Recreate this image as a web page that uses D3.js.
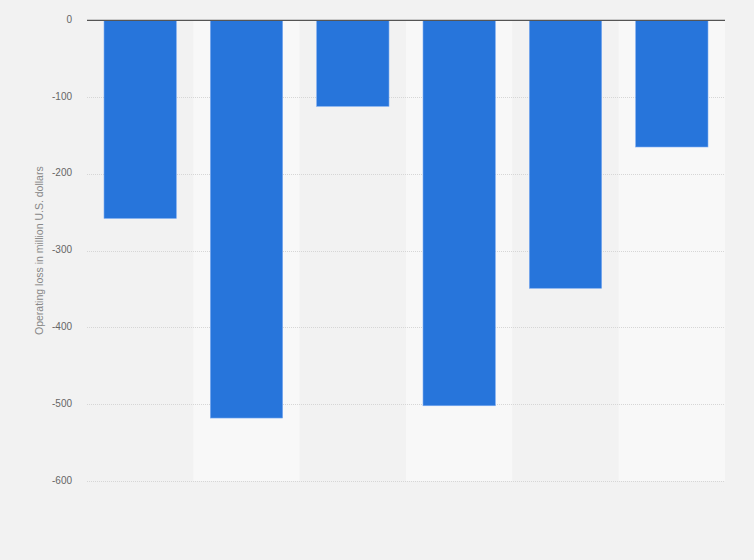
<!DOCTYPE html>
<html>
<head>
<meta charset="utf-8">
<script src="https://cdn.jsdelivr.net/npm/d3@7"></script>
<style>
  html, body { margin: 0; padding: 0; background: #f2f2f2; }
  svg { display: block; font-family: "Liberation Sans", Arial, sans-serif; }
  .tick-label { font-size: 10px; fill: #666; }
  .axis-title { font-size: 10.5px; fill: #888; }
</style>
</head>
<body>
<div id="chart"></div>
<script>
// Balken nach unten: Betriebsverlust je Kategorie (keine x-Beschriftung im Original)
const categories = ["1", "2", "3", "4", "5", "6"];
const values = [-258, -518, -112, -502, -349, -165];
const yTicks = [0, -100, -200, -300, -400, -500, -600];

const W = 754, H = 560;
const M = { top: 20, right: 29, bottom: 79, left: 87 };

const svg = d3.select("#chart").append("svg")
  .attr("width", W)
  .attr("height", H);

const x = d3.scaleBand()
  .domain(categories)
  .range([M.left, W - M.right])
  .paddingInner(0.32)
  .paddingOuter(0.16);

// Hintergrund-Spalten ohne Padding
const xBand = d3.scaleBand()
  .domain(categories)
  .range([M.left, W - M.right])
  .padding(0);

const y = d3.scaleLinear()
  .domain([0, -600])
  .range([M.top + 0.3, H - M.bottom]);

// abwechselnde Spalten
svg.append("g").selectAll("rect")
  .data(categories)
  .join("rect")
  .attr("x", d => xBand(d))
  .attr("y", y(0))
  .attr("width", xBand.bandwidth())
  .attr("height", y(-600) - y(0))
  .attr("fill", (d, i) => i % 2 ? "#f8f8f8" : "#f2f2f2");

// Gitterlinien (gepunktet)
svg.append("g").selectAll("line")
  .data(yTicks.filter(t => t !== 0))
  .join("line")
  .attr("x1", M.left)
  .attr("x2", W - M.right)
  .attr("y1", d => Math.round(y(d)) + 0.5)
  .attr("y2", d => Math.round(y(d)) + 0.5)
  .attr("stroke", "#d6d6d6")
  .attr("stroke-width", 1)
  .attr("stroke-dasharray", "1,1");

// Y-Achse mit d3.axisLeft, Linie und Ticks ausgeblendet; normales Minus wie im Original
const yAxis = svg.append("g")
  .attr("transform", `translate(${M.left},0)`)
  .call(d3.axisLeft(y).tickValues(yTicks).tickSize(0).tickPadding(15).tickFormat(d => String(d)));
yAxis.select(".domain").remove();
yAxis.selectAll("text")
  .attr("class", "tick-label")
  .attr("font-family", null)
  .attr("dy", "0.2em");

// Balken
svg.append("g").selectAll("rect")
  .data(values)
  .join("rect")
  .attr("x", (d, i) => x(categories[i]))
  .attr("y", y(0))
  .attr("width", x.bandwidth())
  .attr("height", d => y(d) - y(0))
  .attr("fill", "#2775db")
  .attr("stroke", "#7aaaf0")
  .attr("stroke-width", 0.6);

// Nulllinie
svg.append("line")
  .attr("x1", M.left)
  .attr("x2", W - M.right)
  .attr("y1", y(0))
  .attr("y2", y(0))
  .attr("stroke", "#555")
  .attr("stroke-width", 1.3);

// Achsentitel
svg.append("text")
  .attr("class", "axis-title")
  .attr("transform", `translate(43, ${(y(0) + y(-600)) / 2}) rotate(-90)`)
  .attr("text-anchor", "middle")
  .text("Operating loss in million U.S. dollars");
</script>
</body>
</html>
